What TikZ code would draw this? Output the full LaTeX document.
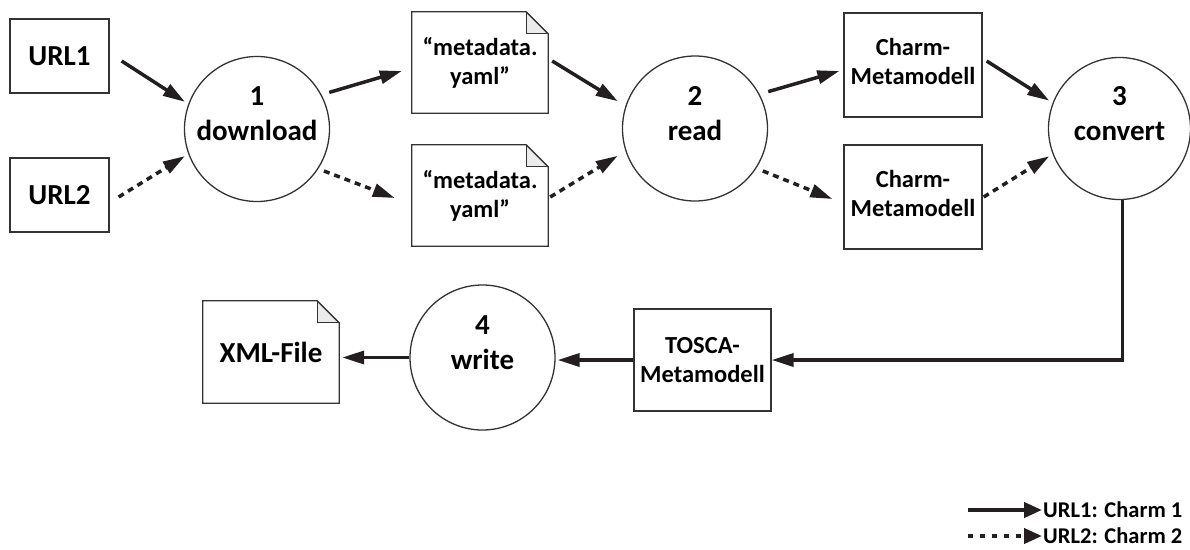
\documentclass[tikz,border=0pt]{standalone}
\usepackage{fontspec}
\setmainfont{Carlito}
\usetikzlibrary{arrows.meta}

\definecolor{ink}{HTML}{231F20}
\definecolor{rimgray}{HTML}{333333}
\definecolor{foldgray}{HTML}{EBEBEB}

\tikzset{
  bigtext/.style={font=\fontsize{29}{35}\selectfont\bfseries},
  smalltext/.style={font=\fontsize{24.5}{29}\selectfont\bfseries},
  keytext/.style={font=\fontsize{22.5}{25}\selectfont\bfseries},
  boxnode/.style={draw=rimgray, line width=1.3pt, inner sep=0pt, align=center},
  docnode/.style={inner sep=0pt, align=center, minimum width=136pt, minimum height=101pt},
  procnode/.style={circle, draw=rimgray, line width=1.3pt, inner sep=0pt, minimum size=145pt},
  proclabel/.style={bigtext, align=center, yshift=15pt},
  flow/.style={draw=ink, line width=3.5pt, -{Triangle[length=22pt,width=13pt]}},
  altflow/.style={flow, dash pattern=on 6pt off 5pt},
  keyflow/.style={draw=ink, line width=4pt, -{Triangle[length=18pt,width=15pt]}},
}

% document outline with a folded top-right corner around a named node
\newcommand\foldeddoc[1]{%
  \fill[foldgray] ([xshift=-22pt]#1.north east) -- ([xshift=-22pt,yshift=-22pt]#1.north east)
     -- ([yshift=-22pt]#1.north east) -- cycle;
  \draw[rimgray, line width=1.3pt, line join=miter]
     (#1.north west) -- ([xshift=-22pt]#1.north east) -- ([yshift=-22pt]#1.north east)
     -- (#1.south east) -- (#1.south west) -- cycle;
  \draw[rimgray, line width=1.3pt]
     ([xshift=-22pt]#1.north east) |- ([yshift=-22pt]#1.north east);
}

\begin{document}
\begin{tikzpicture}[x=1pt, y=-1pt]
\useasboundingbox (0,0) rectangle (1190,549);

% sources
\node[boxnode, bigtext, minimum width=99pt, minimum height=74pt] (u1) at (59.5,56) {URL1};
\node[boxnode, bigtext, minimum width=99pt, minimum height=74pt] (u2) at (59.5,195) {URL2};

% step 1
\node[procnode, label={[proclabel]center:{1\\download}}] (c1) at (257,129) {};

% downloaded files
\node[docnode, smalltext] (d1) at (480,62.5) {“metadata.\\yaml”};
\node[docnode, smalltext] (d2) at (480,195.5) {“metadata.\\yaml”};
\foldeddoc{d1}
\foldeddoc{d2}

% step 2
\node[procnode, label={[proclabel]center:{2\\read}}] (c2) at (695,128.5) {};

% charm metamodels
\node[boxnode, minimum width=138pt, minimum height=104pt] (m1) at (913,65) {};
\node[smalltext, align=center, inner sep=0pt] (m1text) at ([yshift=4pt]m1.center) {Charm-\\Metamodell};
\node[boxnode, minimum width=138pt, minimum height=104pt] (m2) at (913,197) {};
\node[smalltext, align=center, inner sep=0pt] (m2text) at ([yshift=4pt]m2.center) {Charm-\\Metamodell};

% step 3
\node[procnode, minimum size=142pt, label={[proclabel]center:{3\\convert}}] (c3) at (1119.5,128.5) {};

% lower row
\node[boxnode, smalltext, minimum width=137pt, minimum height=102pt] (t) at (702.5,360) {TOSCA-\\Metamodell};
\node[procnode, label={[proclabel]center:{4\\write}}] (c4) at (482.5,357.5) {};
\node[docnode, bigtext, minimum height=102pt] (x) at (271,352) {XML-File};
\foldeddoc{x}

% connectors of the first charm
\draw[flow, shorten >=4pt] ([shift={(12,5)}]u1.east) -- (c1.160);
\draw[flow, shorten <=8pt] (c1.28) -- ([shift={(-10,8.5)}]d1.west);
\draw[flow, shorten >=9pt] ([shift={(4,-1.5)}]d1.east) -- (c2.162);
\draw[flow, shorten <=9pt] (c2.28) -- ([shift={(-4,6)}]m1.west);
\draw[flow, shorten >=4pt] ([shift={(4,-4)}]m1.east) -- (c3.159);

% connectors of the second charm
\draw[altflow, shorten >=4pt] ([shift={(9,2)}]u2.east) -- (c1.200);
\draw[altflow, shorten <=6pt] (c1.-33) -- ([shift={(-17,2.5)}]d2.west);
\draw[altflow, shorten >=9pt] ([shift={(2,1.5)}]d2.east) -- (c2.198);
\draw[altflow, shorten <=7pt] (c2.-33) -- ([shift={(-11,2)}]m2.west);
\draw[altflow, shorten >=4pt] ([shift={(1,0)}]m2.east) -- (c3.201);

% shared path to the output
\draw[flow, line join=miter] ([xshift=3pt]c3.south) |- (t.east);
\draw[flow, shorten >=2pt] (t.west) -- (c4.east |- t.west);
\draw[flow, shorten >=3pt] (c4.west) -- (x.east |- c4.west);

% legend
\coordinate (k1) at (968,510);
\coordinate (k2) at (968,536);
\node[keytext, anchor=west, inner sep=1pt] (l1) at (1042,510) {URL1: Charm 1};
\node[keytext, anchor=west, inner sep=1pt] (l2) at (1042,536) {URL2: Charm 2};
\draw[keyflow] (k1) -- (l1.west);
\draw[keyflow, dash pattern=on 5pt off 7pt] (k2) -- (l2.west);
\end{tikzpicture}
\end{document}
